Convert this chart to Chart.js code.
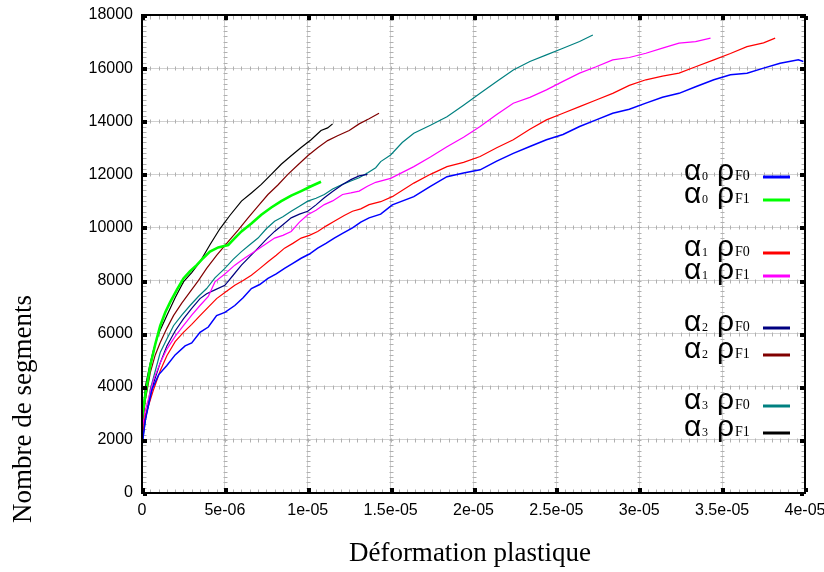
<!DOCTYPE html>
<html>
<head>
<meta charset="utf-8">
<script src="https://cdn.jsdelivr.net/npm/chart.js@4"></script>
<style>
  html, body { margin: 0; padding: 0; background: #fff; }
  #wrap { width: 824px; height: 572px; }
</style>
</head>
<body>
<div id="wrap"><canvas id="chart" width="824" height="572"></canvas></div>
<script>
// x in units of 1e-6 (plastic strain), y = number of segments
const xTickLabels = ['0', '5e-06', '1e-05', '1.5e-05', '2e-05', '2.5e-05', '3e-05', '3.5e-05', '4e-05'];
const yTickLabels = ['0', '2000', '4000', '6000', '8000', '10000', '12000', '14000', '16000', '18000'];
const seriesLabels = ['α0 ρF0', 'α0 ρF1', 'α1 ρF0', 'α1 ρF1', 'α2 ρF0', 'α2 ρF1', 'α3 ρF0', 'α3 ρF1'];

const a0F0 = [[0,1750],[0.2,2750],[0.6,3900],[1.0,4450],[1.5,4800],[2.0,5200],[2.6,5540],[3.0,5650],[3.5,6050],[4.0,6250],[4.5,6680],[5.0,6800],[5.6,7060],[6.1,7350],[6.6,7700],[7.1,7850],[7.6,8080],[8.1,8250],[8.6,8460],[9.1,8650],[9.6,8840],[10.1,9000],[10.6,9220],[11.1,9400],[11.6,9600],[12.1,9780],[12.7,9980],[13.2,10200],[13.7,10360],[14.4,10500],[15.1,10850],[16.4,11160],[17.4,11550],[18.4,11910],[19.4,12050],[20.4,12170],[21.4,12500],[22.4,12790],[23.4,13050],[24.4,13300],[25.4,13500],[26.4,13800],[27.4,14050],[28.4,14300],[29.4,14450],[30.4,14680],[31.4,14900],[32.4,15050],[33.4,15300],[34.5,15560],[35.5,15750],[36.5,15810],[37.5,16000],[38.5,16180],[39.6,16310],[39.9,16250]];
const a0F1 = [[0,2800],[0.2,3700],[0.5,4790],[0.8,5600],[1.1,6300],[1.4,6800],[1.7,7190],[2.1,7650],[2.5,8080],[2.9,8350],[3.3,8580],[3.7,8850],[4.1,9090],[4.6,9250],[5.2,9340],[5.6,9600],[6.0,9850],[6.6,10150],[7.2,10480],[7.8,10750],[8.4,10990],[9.0,11200],[9.6,11370],[10.2,11550],[10.8,11720]];
const a1F0 = [[0,2000],[0.2,2900],[0.7,3900],[1.1,4600],[1.5,5170],[2.0,5700],[2.5,6050],[3.0,6350],[3.5,6680],[4.0,7000],[4.5,7320],[5.0,7550],[5.6,7820],[6.1,8000],[6.6,8200],[7.1,8450],[7.6,8710],[8.1,8950],[8.6,9220],[9.1,9400],[9.6,9600],[10.1,9700],[10.6,9850],[11.1,10050],[11.6,10230],[12.2,10450],[12.7,10610],[13.2,10700],[13.7,10860],[14.4,10970],[15.1,11160],[16.4,11670],[17.4,12000],[18.4,12290],[19.4,12450],[20.4,12670],[21.4,13000],[22.4,13300],[23.4,13700],[24.4,14050],[25.4,14300],[26.4,14550],[27.4,14800],[28.4,15050],[29.4,15350],[30.4,15560],[31.4,15700],[32.4,15810],[33.4,16050],[34.5,16310],[35.5,16550],[36.5,16810],[37.5,16950],[38.2,17130]];
const a1F1 = [[0,2380],[0.2,3100],[0.7,4280],[1.1,4900],[1.5,5420],[2.0,5900],[2.5,6300],[3.0,6700],[3.5,7060],[4.0,7400],[4.4,7950],[5.0,8250],[5.6,8580],[6.2,8850],[6.8,9090],[7.4,9350],[8.0,9600],[8.5,9700],[9.0,9850],[9.5,10200],[10.0,10480],[10.5,10650],[11.0,10860],[11.5,11000],[12.1,11240],[12.6,11300],[13.1,11370],[13.6,11550],[14.1,11700],[15.0,11850],[16.4,12290],[17.4,12650],[18.4,13040],[19.4,13400],[20.4,13800],[21.4,14250],[22.4,14680],[23.4,14900],[24.4,15180],[25.4,15500],[26.4,15810],[27.4,16050],[28.4,16310],[29.4,16400],[30.4,16560],[31.4,16750],[32.4,16940],[33.4,17000],[34.3,17130]];
const a2F0 = [[0,1900],[0.2,2800],[0.7,4150],[1.1,4900],[1.5,5540],[2.0,6100],[2.5,6560],[3.0,6950],[3.5,7320],[3.9,7500],[4.4,7650],[5.0,7820],[5.5,8200],[6.0,8580],[6.5,8900],[7.0,9220],[7.5,9550],[8.0,9850],[8.5,10100],[9.0,10360],[9.5,10500],[10.0,10610],[10.5,10850],[11.0,11120],[11.5,11350],[12.1,11620],[12.6,11800],[13.1,11940],[13.6,12000]];
const a2F1 = [[0,2400],[0.2,3500],[0.5,4530],[0.8,5200],[1.1,5670],[1.5,6200],[1.9,6680],[2.4,7150],[2.9,7570],[3.4,8000],[3.9,8460],[4.5,8950],[5.2,9470],[5.8,9900],[6.4,10360],[7.0,10800],[7.6,11240],[8.2,11600],[8.8,12000],[9.4,12350],[10.0,12700],[10.6,13000],[11.2,13270],[11.8,13450],[12.5,13650],[13.1,13900],[13.7,14090],[14.3,14300]];
const a3F0 = [[0,1800],[0.2,2700],[0.5,3900],[1.1,5290],[1.5,5800],[1.9,6300],[2.4,6700],[2.9,7060],[3.4,7400],[3.9,7700],[4.4,8100],[5.0,8460],[5.5,8800],[6.0,9090],[6.5,9350],[7.0,9600],[7.5,9950],[8.0,10230],[8.5,10400],[9.0,10610],[9.5,10800],[10.0,10990],[10.5,11100],[11.0,11240],[11.5,11450],[12.1,11620],[12.6,11750],[13.1,11870],[13.6,12050],[14.1,12250],[14.4,12480],[15.0,12730],[15.7,13200],[16.4,13550],[17.4,13850],[18.4,14170],[19.4,14600],[20.4,15050],[21.4,15500],[22.4,15930],[23.4,16250],[24.4,16500],[25.4,16750],[26.4,17000],[27.2,17250]];
const a3F1 = [[0,2200],[0.2,4000],[0.5,4900],[0.7,5400],[1.0,6000],[1.5,6680],[2.0,7350],[2.5,7950],[3.0,8300],[3.5,8710],[4.1,9350],[4.7,9950],[5.3,10450],[6.0,10990],[6.6,11300],[7.2,11620],[7.8,12000],[8.4,12380],[9.0,12700],[9.6,13010],[10.2,13300],[10.8,13650],[11.2,13750],[11.5,13900]];

const seriesData = [a0F0, a0F1, a1F0, a1F1, a2F0, a2F1, a3F0, a3F1];
const colors = ['#0000ff', '#00ff00', '#ff0000', '#ff00ff', '#000080', '#800000', '#008080', '#000000'];
const widths = [1.5, 2.6, 1.2, 1.2, 1.2, 1.2, 1.2, 1.2];

const SERIF = '"Liberation Serif", "Times New Roman", serif';
const SANS = '"Liberation Sans", Arial, sans-serif';

// frame, minor ticks on grid lines, black squares at major ticks, titles, legend
const framePlugin = {
  id: 'frame',
  beforeDatasetsDraw(chart) {
    const { ctx, scales: { x, y } } = chart;
    ctx.save();
    ctx.strokeStyle = '#b0b0b0';
    ctx.lineWidth = 1;
    ctx.beginPath();
    for (let yv = 0; yv <= 18000; yv += 2000) {
      const py = Math.round(y.getPixelForValue(yv)) + 0.5;
      for (let xv = 0.5; xv < 40; xv += 0.5) {
        const px = Math.round(x.getPixelForValue(xv)) + 0.5;
        if (yv === 0) { ctx.moveTo(px, py - 4); ctx.lineTo(px, py); }
        else if (yv === 18000) { ctx.moveTo(px, py); ctx.lineTo(px, py + 4); }
        else { ctx.moveTo(px, py - 2); ctx.lineTo(px, py + 2); }
      }
    }
    for (let xv = 0; xv <= 40; xv += 5) {
      const px = Math.round(x.getPixelForValue(xv)) + 0.5;
      for (let yv = 200; yv < 18000; yv += 200) {
        const py = Math.round(y.getPixelForValue(yv)) + 0.5;
        if (xv === 0) { ctx.moveTo(px, py); ctx.lineTo(px + 4, py); }
        else if (xv === 40) { ctx.moveTo(px - 4, py); ctx.lineTo(px, py); }
        else { ctx.moveTo(px - 2, py); ctx.lineTo(px + 2, py); }
      }
    }
    ctx.stroke();
    ctx.restore();
  },
  afterDatasetsDraw(chart) {
    const { ctx, chartArea: a, scales: { x, y } } = chart;
    ctx.save();
    ctx.fillStyle = '#000';
    for (let yv = 0; yv <= 18000; yv += 2000) {
      const py = Math.round(y.getPixelForValue(yv));
      ctx.fillRect(a.left + 1, py - 1, 4, 4);
      ctx.fillRect(a.right - 5, py - 1, 4, 4);
    }
    for (let xv = 0; xv <= 40; xv += 5) {
      const px = Math.round(x.getPixelForValue(xv));
      ctx.fillRect(px - 1, a.bottom - 5, 4, 4);
      ctx.fillRect(px - 1, a.top + 1, 4, 4);
    }
    ctx.strokeStyle = '#000';
    ctx.lineWidth = 2;
    ctx.strokeRect(a.left, a.top, a.right - a.left, a.bottom - a.top);
    ctx.restore();
  },
  afterDraw(chart) {
    const { ctx } = chart;
    ctx.save();
    ctx.fillStyle = '#000';
    ctx.font = '27px ' + SERIF;
    ctx.textAlign = 'center';
    ctx.textBaseline = 'alphabetic';
    ctx.fillText('Déformation plastique', 470, 561);
    ctx.translate(31, 409);
    ctx.rotate(-Math.PI / 2);
    ctx.fillText('Nombre de segments', 0, 0);
    ctx.restore();

    const legendY = [177, 200, 253, 276, 328, 355, 406, 433];
    ctx.save();
    ctx.textAlign = 'left';
    ctx.textBaseline = 'alphabetic';
    chart.data.datasets.forEach((ds, i) => {
      const lab = ds.label;
      const base = legendY[i] + 3;
      ctx.fillStyle = '#000';
      ctx.font = '30px ' + SANS;
      ctx.fillText(lab[0], 684, base);
      ctx.fillText(lab[3], 717, base);
      ctx.font = '12px ' + SERIF;
      ctx.fillText(lab[1], 702, base);
      ctx.font = '14px ' + SERIF;
      ctx.fillText(lab.slice(4), 735, base);
      ctx.strokeStyle = ds.borderColor;
      ctx.lineWidth = 3;
      ctx.beginPath();
      ctx.moveTo(763, legendY[i]);
      ctx.lineTo(790, legendY[i]);
      ctx.stroke();
    });
    ctx.restore();
  }
};

new Chart(document.getElementById('chart'), {
  type: 'line',
  data: {
    datasets: seriesData.map((pts, i) => ({
      label: seriesLabels[i],
      data: pts.map(p => ({ x: p[0], y: p[1] })),
      borderColor: colors[i],
      backgroundColor: colors[i],
      borderWidth: widths[i],
      pointRadius: 0,
      tension: 0,
      fill: false
    }))
  },
  options: {
    responsive: false,
    animation: false,
    layout: { padding: { top: 15, right: 19, left: 0, bottom: 0 } },
    plugins: {
      legend: { display: false },
      tooltip: { enabled: false }
    },
    scales: {
      x: {
        type: 'linear',
        min: 0,
        max: 40,
        afterBuildTicks: s => { s.ticks = xTickLabels.map((_, i) => ({ value: i * 5 })); },
        ticks: {
          callback: (v, i) => xTickLabels[i],
          color: '#000',
          font: { family: SANS, size: 16 },
          padding: 8,
          maxRotation: 0,
          autoSkip: false
        },
        grid: { color: 'rgba(0,0,0,0.18)', borderDash: [1, 3], drawTicks: false },
        border: { display: false },
        afterFit: s => { s.height = 79; s.paddingLeft = 0; s.paddingRight = 0; }
      },
      y: {
        type: 'linear',
        min: 0,
        max: 18000,
        afterBuildTicks: s => { s.ticks = yTickLabels.map((_, i) => ({ value: i * 2000 })); },
        ticks: {
          callback: (v, i) => yTickLabels[i],
          color: '#000',
          font: { family: SANS, size: 16 },
          padding: 9,
          autoSkip: false
        },
        grid: { color: 'rgba(0,0,0,0.18)', borderDash: [1, 3], drawTicks: false },
        border: { display: false },
        afterFit: s => { s.width = 142; s.paddingTop = 0; s.paddingBottom = 0; }
      }
    }
  },
  plugins: [framePlugin]
});
</script>
</body>
</html>
